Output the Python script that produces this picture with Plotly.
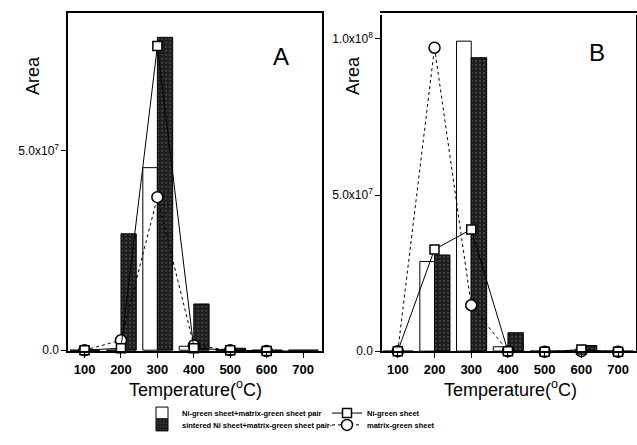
import plotly.graph_objects as go

temps = [100, 200, 300, 400, 500, 600, 700]

# Panel A
a_pair_green = [0, 0, 4.58e7, 0.1e7, 0, 0, 0]
a_pair_sintered = [0, 2.92e7, 7.85e7, 1.16e7, 0.05e7, 0, 0]
a_ni_green = [0, 0.05e7, 7.63e7, 0.05e7, 0, -0.02e7, -0.03e7]
a_matrix_green = [0, 0.25e7, 3.84e7, 0.12e7, 0, -0.02e7, -0.03e7]

# Panel B
b_pair_green = [0, 2.87e7, 9.93e7, 0.14e7, 0, 0, 0]
b_pair_sintered = [0, 3.08e7, 9.4e7, 0.59e7, 0, 0.18e7, 0]
b_ni_green = [0, 3.26e7, 3.9e7, 0, -0.02e7, 0.05e7, -0.02e7]
b_matrix_green = [0, 9.72e7, 1.47e7, 0, -0.02e7, 0, -0.02e7]

names = ["Ni-green sheet+matrix-green sheet pair",
         "sintered Ni sheet+matrix-green sheet pair·",
         "Ni-green sheet",
         "matrix-green sheet"]

fig = go.Figure()

def add_panel(xa, ya, pair_g, pair_s, ni_g, mat_g, show):
    fig.add_trace(go.Bar(x=temps, y=pair_g, offset=-40, width=40,
                         marker=dict(color="white", line=dict(color="black", width=1)),
                         name=names[0], showlegend=show, legend="legend",
                         xaxis=xa, yaxis=ya))
    fig.add_trace(go.Bar(x=temps, y=pair_s, offset=0, width=42,
                         marker=dict(color="#1c1c1c", line=dict(color="black", width=1),
                                     pattern=dict(shape=".", fgcolor="#6a6a6a", bgcolor="#1c1c1c",
                                                  size=4, solidity=0.25)),
                         name=names[1], showlegend=show, legend="legend2",
                         xaxis=xa, yaxis=ya))
    fig.add_trace(go.Scatter(x=temps, y=mat_g, mode="lines+markers",
                             line=dict(color="black", width=1, dash="dot"),
                             marker=dict(symbol="circle", size=11, color="white",
                                         line=dict(color="black", width=1.5)),
                             cliponaxis=False,
                             name=names[3], showlegend=show, legend="legend2",
                             xaxis=xa, yaxis=ya))
    fig.add_trace(go.Scatter(x=temps, y=ni_g, mode="lines+markers",
                             line=dict(color="black", width=1),
                             marker=dict(symbol="square", size=9, color="white",
                                         line=dict(color="black", width=1.5)),
                             cliponaxis=False,
                             name=names[2], showlegend=show, legend="legend",
                             xaxis=xa, yaxis=ya))

add_panel("x", "y", a_pair_green, a_pair_sintered, a_ni_green, a_matrix_green, True)
add_panel("x2", "y2", b_pair_green, b_pair_sintered, b_ni_green, b_matrix_green, False)

axis_common = dict(showgrid=False, zeroline=False, showline=True, linecolor="black",
                   linewidth=1.5, mirror=True, ticks="outside", ticklen=5,
                   tickcolor="black")
xfont = dict(family="Arial", size=13, color="black", weight="bold")
yfont = dict(family="Arial", size=12, color="black")
legfont = dict(family="Arial", size=7.5, color="black", weight="bold")

fig.update_layout(
    width=637, height=445,
    margin=dict(l=0, r=0, t=0, b=0),
    paper_bgcolor="white", plot_bgcolor="white",
    barmode="overlay",
    font=dict(family="Arial", color="black"),
    xaxis=dict(domain=[0.107, 0.5055], range=[55, 752], tickvals=temps,
               tickfont=xfont, **axis_common),
    xaxis2=dict(domain=[0.5997, 0.998], range=[57, 748], tickvals=temps,
                tickfont=xfont, **axis_common),
    yaxis=dict(domain=[0.2, 0.9708], range=[-0.025e7, 8.465e7],
               tickvals=[0, 5e7], ticktext=["0.0", "5.0x10<sup>7</sup>"],
               tickfont=yfont, **axis_common),
    yaxis2=dict(domain=[0.198, 0.966], range=[-0.03e7, 1.077e8], anchor="x2",
                tickvals=[0, 5e7, 1e8],
                ticktext=["0.0", "5.0x10<sup>7</sup>", "1.0x10<sup>8</sup>"],
                tickfont=yfont, **axis_common),
    legend=dict(orientation="h", x=142/637, y=1-404/445, xanchor="left", yanchor="top",
                entrywidth=140, entrywidthmode="pixels", itemwidth=30,
                font=legfont, bgcolor="rgba(0,0,0,0)", tracegroupgap=0),
    legend2=dict(orientation="h", x=142/637, y=1-416/445, xanchor="left", yanchor="top",
                 entrywidth=140, entrywidthmode="pixels", itemwidth=30,
                 font=legfont, bgcolor="rgba(0,0,0,0)", tracegroupgap=0),
)

ann = []
def add_text(text, cx, cy, size, angle=0):
    ann.append(dict(text=text, x=cx/637, y=1-cy/445, xref="paper", yref="paper",
                    xanchor="center", yanchor="middle", showarrow=False,
                    textangle=angle, font=dict(size=size, family="Arial", color="black")))

for cx in [33, 353]:
    add_text("Area", cx, 77, 18, -90)
for cx in [195, 510]:
    add_text("Temperature(<sup>o</sup>C)", cx, 394, 18)
add_text("A", 281, 57, 24)
add_text("B", 597, 53, 24)
fig.update_layout(annotations=ann)

fig.write_html("out.html")
